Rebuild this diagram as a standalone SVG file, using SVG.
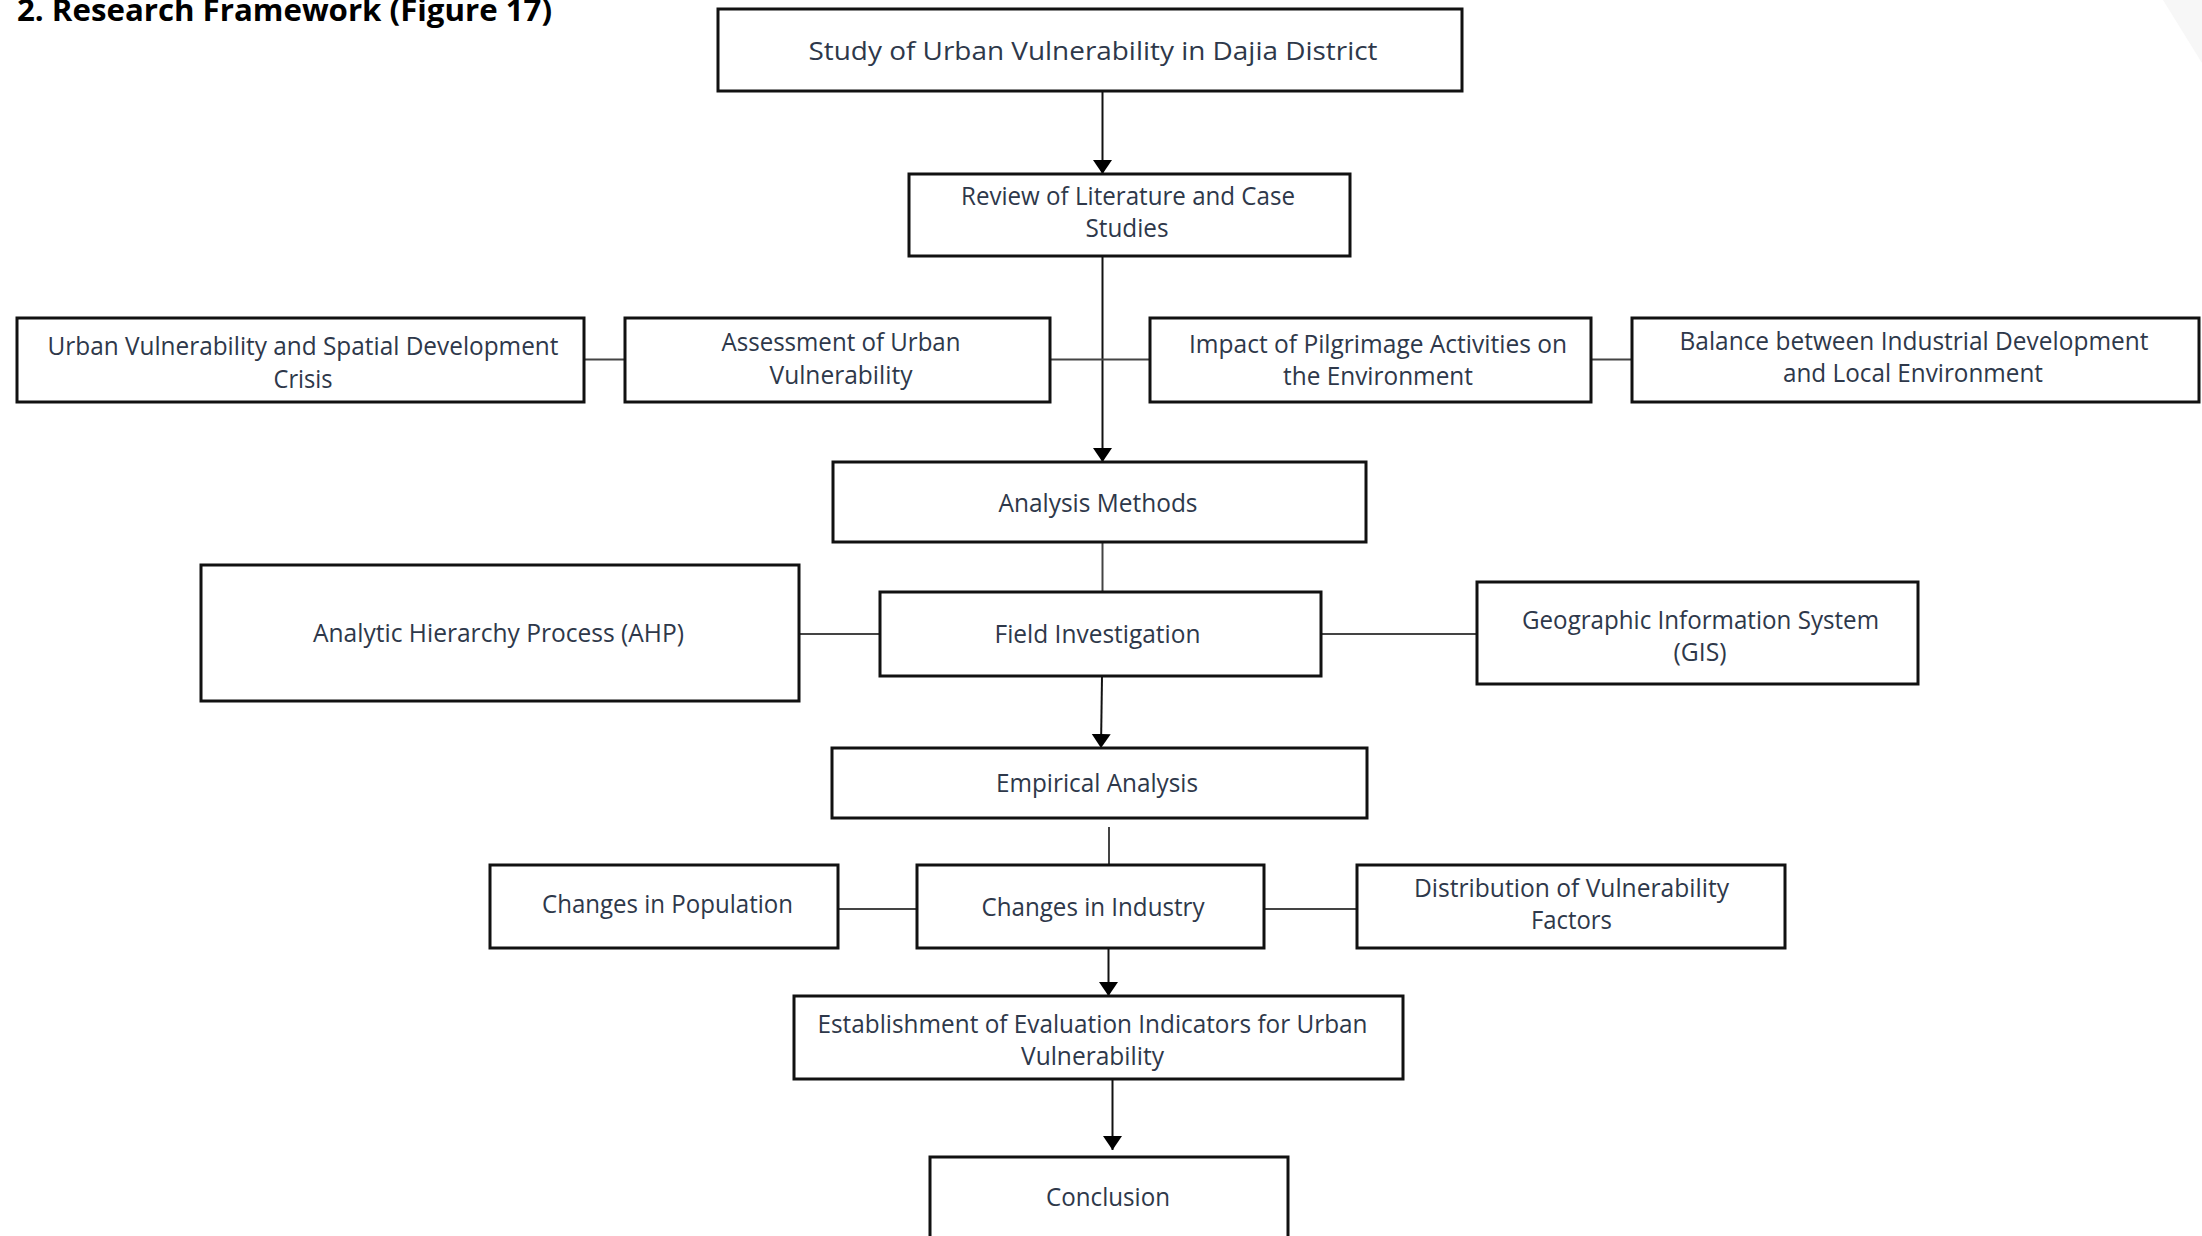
<svg xmlns="http://www.w3.org/2000/svg" width="2202" height="1236" viewBox="0 0 2202 1236">
<style>
.box{fill:#fff;stroke:#111;stroke-width:3}
.t{font-family:"Open Sans","Liberation Sans",sans-serif;font-size:26px;fill:#2e384a;text-anchor:middle}
.title{font-family:"Open Sans","Liberation Sans",sans-serif;font-size:30px;font-weight:bold;fill:#000}
.arrow{stroke:#111;stroke-width:2;fill:none;marker-end:url(#ah)}
.link{stroke:#444;stroke-width:2;fill:none}
</style>
<defs>
<marker id="ah" markerUnits="userSpaceOnUse" markerWidth="16" markerHeight="20" refX="14" refY="9.5" orient="auto">
<path d="M0,0 L14,9.5 L0,19 z" fill="#000"/>
</marker>
</defs>
<rect width="2202" height="1236" fill="#fff"/>
<polygon points="2163,0 2202,0 2202,63" fill="#f7f7f7"/>
<text class="title" x="17" y="21" textLength="535" lengthAdjust="spacingAndGlyphs">2. Research Framework (Figure 17)</text>

<g id="connectors">
<line class="arrow" x1="1102.5" y1="91" x2="1102.5" y2="174"/>
<line class="arrow" x1="1102.5" y1="256" x2="1102.5" y2="462"/>
<line class="link" x1="584" y1="359.5" x2="625" y2="359.5"/>
<line class="link" x1="1050" y1="359.5" x2="1150" y2="359.5"/>
<line class="link" x1="1591" y1="359.5" x2="1632" y2="359.5"/>
<line class="link" x1="1102.5" y1="542" x2="1102.5" y2="591"/>
<line class="link" x1="799" y1="634" x2="880" y2="634"/>
<line class="link" x1="1321" y1="634" x2="1477" y2="634"/>
<line class="arrow" x1="1102" y1="676" x2="1101" y2="748"/>
<line class="link" x1="1109" y1="827" x2="1109" y2="865"/>
<line class="link" x1="838" y1="909" x2="917" y2="909"/>
<line class="link" x1="1264" y1="909" x2="1357" y2="909"/>
<line class="arrow" x1="1108.5" y1="948" x2="1108.5" y2="996"/>
<line class="arrow" x1="1112.5" y1="1079" x2="1112.5" y2="1150"/>
</g>

<g id="n-study">
<rect class="box" x="718" y="9" width="744" height="82"/>
<text class="t" x="1093" y="60" textLength="569" lengthAdjust="spacingAndGlyphs">Study of Urban Vulnerability in Dajia District</text>
</g>
<g id="n-review">
<rect class="box" x="909" y="174" width="441" height="82"/>
<text class="t" x="1128" y="205" textLength="334" lengthAdjust="spacingAndGlyphs">Review of Literature and Case</text>
<text class="t" x="1127" y="237" textLength="83" lengthAdjust="spacingAndGlyphs">Studies</text>
</g>
<g id="n-urban">
<rect class="box" x="17" y="318" width="567" height="84"/>
<text class="t" x="303" y="355" textLength="511" lengthAdjust="spacingAndGlyphs">Urban Vulnerability and Spatial Development</text>
<text class="t" x="303" y="388" textLength="59" lengthAdjust="spacingAndGlyphs">Crisis</text>
</g>
<g id="n-assess">
<rect class="box" x="625" y="318" width="425" height="84"/>
<text class="t" x="841" y="351" textLength="239" lengthAdjust="spacingAndGlyphs">Assessment of Urban</text>
<text class="t" x="841" y="384" textLength="143" lengthAdjust="spacingAndGlyphs">Vulnerability</text>
</g>
<g id="n-impact">
<rect class="box" x="1150" y="318" width="441" height="84"/>
<text class="t" x="1378" y="353" textLength="378" lengthAdjust="spacingAndGlyphs">Impact of Pilgrimage Activities on</text>
<text class="t" x="1378" y="385" textLength="190" lengthAdjust="spacingAndGlyphs">the Environment</text>
</g>
<g id="n-balance">
<rect class="box" x="1632" y="318" width="567" height="84"/>
<text class="t" x="1914" y="350" textLength="469" lengthAdjust="spacingAndGlyphs">Balance between Industrial Development</text>
<text class="t" x="1913" y="382" textLength="260" lengthAdjust="spacingAndGlyphs">and Local Environment</text>
</g>
<g id="n-methods">
<rect class="box" x="833" y="462" width="533" height="80"/>
<text class="t" x="1098" y="512" textLength="199" lengthAdjust="spacingAndGlyphs">Analysis Methods</text>
</g>
<g id="n-ahp">
<rect class="box" x="201" y="565" width="598" height="136"/>
<text class="t" x="498.5" y="642" textLength="371" lengthAdjust="spacingAndGlyphs">Analytic Hierarchy Process (AHP)</text>
</g>
<g id="n-field">
<rect class="box" x="880" y="592" width="441" height="84"/>
<text class="t" x="1097.5" y="643" textLength="206" lengthAdjust="spacingAndGlyphs">Field Investigation</text>
</g>
<g id="n-gis">
<rect class="box" x="1477" y="582" width="441" height="102"/>
<text class="t" x="1700.5" y="629" textLength="357" lengthAdjust="spacingAndGlyphs">Geographic Information System</text>
<text class="t" x="1700" y="661" textLength="53" lengthAdjust="spacingAndGlyphs">(GIS)</text>
</g>
<g id="n-empirical">
<rect class="box" x="832" y="748" width="535" height="70"/>
<text class="t" x="1097" y="792" textLength="202" lengthAdjust="spacingAndGlyphs">Empirical Analysis</text>
</g>
<g id="n-population">
<rect class="box" x="490" y="865" width="348" height="83"/>
<text class="t" x="667.5" y="913" textLength="251" lengthAdjust="spacingAndGlyphs">Changes in Population</text>
</g>
<g id="n-industry">
<rect class="box" x="917" y="865" width="347" height="83"/>
<text class="t" x="1093" y="916" textLength="223" lengthAdjust="spacingAndGlyphs">Changes in Industry</text>
</g>
<g id="n-distribution">
<rect class="box" x="1357" y="865" width="428" height="83"/>
<text class="t" x="1571.5" y="897" textLength="315" lengthAdjust="spacingAndGlyphs">Distribution of Vulnerability</text>
<text class="t" x="1571.5" y="929" textLength="81" lengthAdjust="spacingAndGlyphs">Factors</text>
</g>
<g id="n-establish">
<rect class="box" x="794" y="996" width="609" height="83"/>
<text class="t" x="1092.5" y="1033" textLength="550" lengthAdjust="spacingAndGlyphs">Establishment of Evaluation Indicators for Urban</text>
<text class="t" x="1092.5" y="1065" textLength="143" lengthAdjust="spacingAndGlyphs">Vulnerability</text>
</g>
<g id="n-conclusion">
<rect class="box" x="930" y="1157" width="358" height="95"/>
<text class="t" x="1108" y="1206" textLength="124" lengthAdjust="spacingAndGlyphs">Conclusion</text>
</g>
</svg>
